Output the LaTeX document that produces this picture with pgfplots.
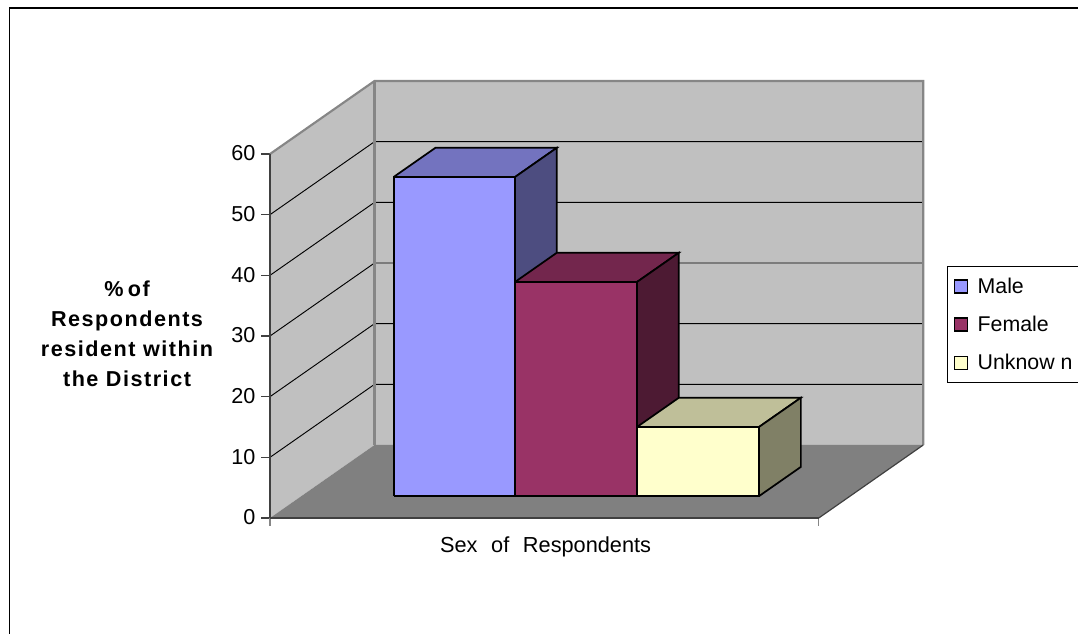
\documentclass[border=0pt]{standalone}
\usepackage{fontspec}
\setmainfont{Liberation Sans}
\newfontfamily\lblfont[LetterSpace=7]{Liberation Sans}
\usepackage{pgfplots}
\pgfplotsset{compat=1.18}

\definecolor{wall}{HTML}{C0C0C0}
\definecolor{floorc}{HTML}{808080}
\definecolor{edgec}{HTML}{868686}
\definecolor{malef}{HTML}{9999FF}
\definecolor{malet}{HTML}{7373BF}
\definecolor{males}{HTML}{4D4D80}
\definecolor{femf}{HTML}{993366}
\definecolor{femt}{HTML}{73264D}
\definecolor{fems}{HTML}{4D1A33}
\definecolor{unkf}{HTML}{FFFFCC}
\definecolor{unkt}{HTML}{BFBF99}
\definecolor{unks}{HTML}{808066}

% left x, right x, value, colour prefix
\newcommand{\drawbar}[4]{
  \addplot3[fill=#4t,draw=black,line width=1.3pt,forget plot] coordinates {(#1,0.30,#3) (#2,0.30,#3) (#2,0.70,#3) (#1,0.70,#3) (#1,0.30,#3)};
  \addplot3[fill=#4s,draw=black,line width=1.3pt,forget plot] coordinates {(#2,0.30,0) (#2,0.70,0) (#2,0.70,#3) (#2,0.30,#3) (#2,0.30,0)};
  \addplot3[fill=#4f,draw=black,line width=1.3pt,forget plot] coordinates {(#1,0.30,0) (#2,0.30,0) (#2,0.30,#3) (#1,0.30,#3) (#1,0.30,0)};
}

\begin{document}
\begin{tikzpicture}
\path[use as bounding box] (0,0) rectangle (808.5pt,475.5pt);
\begin{axis}[
  at={(226.2pt,87pt)}, anchor=origin,
  x={(91.05pt,0pt)}, y={(78.375pt,54.75pt)}, z={(0pt,4.55pt)},
  xmin=-0.26, xmax=4.26, ymin=0, ymax=1, zmin=0, zmax=60,
  clip=false, axis on top,
  axis lines=left,
  axis line style={-,draw=black!75,line width=0.9pt},
  y axis line style={draw=none},
  xtick=\empty, ytick=\empty,
  ztick={0,10,...,60},
  major tick length=0pt,
  z tick label style={anchor=east,font=\fontsize{16.2}{18}\selectfont,xshift=-7.5pt,yshift=0.5pt},
  /pgf/number format/assume math mode=true,
  xlabel={Sex\hspace{0.35em} of\hspace{0.35em} Respondents},
  xlabel style={at={(axis cs:2.01,0,-4.8)},anchor=center,font=\fontsize{16.3}{18}\selectfont},
  zlabel={\%\hspace{-0.15em} of\\Respondents\\resident within\\the District},
  zlabel style={at={(axis cs:-1.438,0,30.3)},anchor=center,rotate=-90,align=center,
    font=\lblfont\bfseries\fontsize{16.2}{22.5}\selectfont},
  legend style={at={(axis cs:5.317,0,41.5)},anchor=north west,draw=black,line width=0.8pt,
    font=\fontsize{16}{18}\selectfont,inner xsep=4.5pt,inner ysep=6.25pt,row sep=11.5pt},
  legend cell align=left,
  legend image code/.code={\draw[#1,draw=black,line width=1pt] (0pt,-4.9pt) rectangle (10pt,4.9pt);},
]
% walls and floor
\addplot3[fill=wall,draw=none,forget plot] coordinates {(-0.26,0,0) (-0.26,1,0) (-0.26,1,60) (-0.26,0,60) (-0.26,0,0)};
\addplot3[fill=wall,draw=none,forget plot] coordinates {(-0.26,1,0) (4.26,1,0) (4.26,1,60) (-0.26,1,60) (-0.26,1,0)};
\addplot3[fill=floorc,draw=none,forget plot] coordinates {(-0.26,0,0) (4.26,0,0) (4.26,1,0) (-0.26,1,0) (-0.26,0,0)};

% grid lines and tick marks
\pgfplotsinvokeforeach{10,20,30,40,50}{
  \addplot3[black,line width=0.7pt,forget plot] coordinates {(-0.26,0,#1) (-0.26,1,#1) (4.26,1,#1)};
}
\pgfplotsinvokeforeach{0,10,20,30,40,50,60}{
  \addplot3[black!75,line width=0.8pt,forget plot] coordinates {(-0.334,0,#1) (-0.26,0,#1)};
}
\addplot3[edgec,line width=0.9pt,forget plot] coordinates {(-0.26,0,0) (-0.26,0,-1.4)};
\addplot3[edgec,line width=0.9pt,forget plot] coordinates {(4.26,0,0) (4.26,0,-1.4)};

% wall edges
\addplot3[edgec,line width=1.6pt,forget plot] coordinates {(-0.26,0,60) (-0.26,1,60) (4.26,1,60) (4.26,1,0)};
\addplot3[edgec,line width=1.6pt,forget plot] coordinates {(-0.26,1,60) (-0.26,1,0)};
\addplot3[black!75,line width=0.9pt,forget plot] coordinates {(4.26,0,0) (4.26,1,0)};

\drawbar{0.5}{1.5}{52.6}{male}
\drawbar{1.5}{2.505}{35.3}{fem}
\drawbar{2.505}{3.51}{11.4}{unk}

\addlegendimage{fill=malef}
\addlegendentry{\makebox[85pt][l]{\hspace{5pt}Male}}
\addlegendimage{fill=femf}
\addlegendentry{\makebox[85pt][l]{\hspace{5pt}Female}}
\addlegendimage{fill=unkf}
\addlegendentry{\makebox[85pt][l]{\hspace{5pt}Unknow\kern4.5pt n}}
\end{axis}
\draw[black,line width=1.1pt] (7.3pt,-2pt) -- (7.3pt,469.5pt) -- (810pt,469.5pt);
\end{tikzpicture}
\end{document}
